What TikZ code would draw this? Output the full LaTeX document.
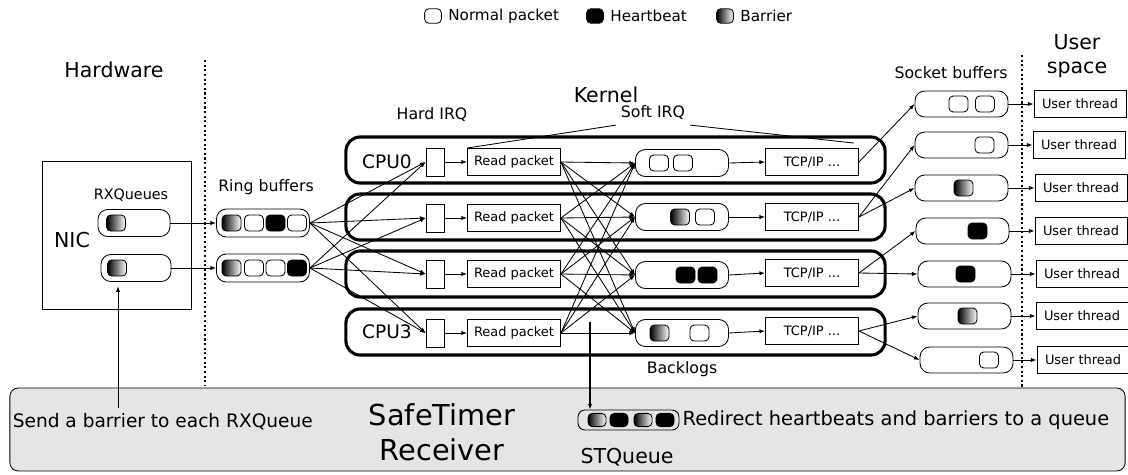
\documentclass[tikz,border=0pt]{standalone}
\usepackage{fontspec}
\setmainfont{DejaVu Sans}
\usetikzlibrary{arrows.meta, positioning, calc}

% font sizes used in the picture
\newcommand{\fnine}{\fontsize{9.2}{11}\selectfont}
\newcommand{\ften}{\fontsize{10.2}{12}\selectfont}
\newcommand{\flegend}{\fontsize{10.8}{13}\selectfont}
\newcommand{\feleven}{\fontsize{11.2}{13}\selectfont}
\newcommand{\fthirteen}{\fontsize{13.2}{15}\selectfont}
\newcommand{\ffourteen}{\fontsize{13.8}{16}\selectfont}
\newcommand{\ffifteen}{\fontsize{14.6}{17}\selectfont}
\newcommand{\ftwenty}{\fontsize{20.5}{25}\selectfont}

\begin{document}
\begin{tikzpicture}[x=0.025cm, y=-0.025cm, >={Latex[length=4pt,width=3pt]}, line width=0.6pt]
 % We define the styles for packets, queues, boxes and arrows
 \tikzset{
pkt/.style = {draw, rounded corners=3pt, minimum width=0.475cm, minimum height=0.4cm, inner sep=0pt},
normal/.style = {pkt, fill=white},
heart/.style = {pkt, fill=black},
barrier/.style = {pkt, left color=black, right color=white},
legpkt/.style = {minimum width=0.42cm, minimum height=0.36cm},
queue/.style = {draw, rounded corners=7pt, minimum width=2.325cm, minimum height=0.675cm, inner sep=0pt},
cpubox/.style = {draw, rounded corners=10pt, line width=2.2pt, minimum width=13.475cm, minimum height=1.15cm},
irq/.style = {draw, minimum width=0.45cm, minimum height=0.7cm, inner sep=0pt},
proc/.style = {draw, minimum width=2.325cm, minimum height=0.675cm, inner sep=0pt, font=\fnine},
thread/.style = {draw, minimum width=2.3cm, minimum height=0.675cm, inner sep=0pt, font=\fnine},
line/.style = {draw, ->},
sep/.style = {draw, line width=1.1pt, dash pattern=on 1.5pt off 1.8pt},
}
 \useasboundingbox (0,0) rectangle (1128,474);

 % Legend
 \node [normal, legpkt] (legnormal) at (433,16) {};
 \node [right=1pt of legnormal, font=\flegend] (legnormaltxt) {Normal packet};
 \node [heart, legpkt] (legheart) at (595,16) {};
 \node [right=1pt of legheart, font=\flegend] (leghearttxt) {Heartbeat};
 \node [barrier, legpkt] (legbarrier) at (725,16) {};
 \node [right=1pt of legbarrier, font=\flegend] (legbarriertxt) {Barrier};

 % Layer labels and separators
 \node [font=\ffifteen] (hwlabel) at (114,70) {Hardware};
 \node [font=\ffifteen] (kernlabel) at (606,95) {Kernel};
 \node [font=\ffifteen, align=center] (userlabel) at (1077,56) {User\\space};
 \draw [sep] (205,60) -- (205,385);
 \draw [sep] (1022,55) -- (1022,390);

 % SafeTimer receiver
 \node [draw, fill=gray!20, rounded corners=6pt, minimum width=27.875cm, minimum height=2.075cm] (strecv) at (567.5,429.5) {};
 \node [font=\fthirteen, anchor=west, inner sep=1pt] (sendtxt) at (11,422) {Send a barrier to each RXQueue};
 \node [font=\ftwenty, align=center] (strecvtxt) at (442,432) {SafeTimer\\Receiver};
 \node [queue, minimum width=2.525cm, minimum height=0.5cm, rounded corners=5pt] (stq) at (628.5,420) {};
 \node [barrier, minimum width=0.45cm, minimum height=0.33cm] (stq1) at (597,420) {};
 \node [heart, minimum width=0.45cm, minimum height=0.33cm] (stq2) at (619,420) {};
 \node [barrier, minimum width=0.45cm, minimum height=0.33cm] (stq3) at (643,420) {};
 \node [heart, minimum width=0.45cm, minimum height=0.33cm] (stq4) at (665,420) {};
 \node [font=\ffourteen, right=0pt of stq, inner sep=2pt] (redirtxt) {Redirect heartbeats and barriers to a queue};
 \node [font=\ffifteen] (stqlabel) at (627,457) {STQueue};

 % NIC with its RX queues
 \draw (42,161) rectangle (191,309);
 \node [font=\ffifteen] (niclabel) at (72,240) {NIC};
 \node [font=\ften] (rxqlabel) at (131,195) {RXQueues};
 \node [queue, minimum width=1.8cm] (rxq1) at (134,223) {};
 \node [barrier] (rxq1p1) at (116,223) {};
 \node [queue, minimum width=1.75cm] (rxq2) at (136,268) {};
 \node [barrier] (rxq2p1) at (117,268) {};

 % Ring buffers
 \node [font=\feleven] (ringlabel) at (266,187) {Ring buffers};
 \node [queue, minimum height=0.7cm] (ring1) at (263,223) {};
 \node [barrier] (ring1p1) at (231.5,223) {};
 \node [normal] (ring1p2) at (254,223) {};
 \node [heart] (ring1p3) at (275.5,223) {};
 \node [normal] (ring1p4) at (297,223) {};
 \node [queue, minimum height=0.7cm] (ring2) at (263,268) {};
 \node [barrier] (ring2p1) at (231.5,268) {};
 \node [normal] (ring2p2) at (254,268) {};
 \node [normal] (ring2p3) at (275.5,268) {};
 \node [heart] (ring2p4) at (297,268) {};

 % CPU rows
 \node [cpubox] (cpu0) at (615.5,160) {};
 \node [cpubox] (cpu1) at (615.5,217) {};
 \node [cpubox] (cpu2) at (615.5,274) {};
 \node [cpubox] (cpu3) at (615.5,332) {};
 \node [font=\fthirteen] (cpu0label) at (387,162) {CPU0};
 \node [font=\fthirteen] (cpu3label) at (387,332) {CPU3};
 \node [font=\feleven] (hardlabel) at (432,115) {Hard IRQ};
 \node [font=\feleven] (softlabel) at (653,113) {Soft IRQ};
 \node [font=\feleven] (backlabel) at (682,369) {Backlogs};

 % Hard IRQ, read packet, backlog and TCP/IP of each CPU
 \node [irq] (irq0) at (435,162) {};
 \node [irq] (irq1) at (435,218) {};
 \node [irq] (irq2) at (435,274) {};
 \node [irq] (irq3) at (435,333) {};
 \node [proc] (read0) at (514,162) {Read packet};
 \node [proc] (read1) at (514,218) {Read packet};
 \node [proc] (read2) at (514,274) {Read packet};
 \node [proc] (read3) at (514,333) {Read packet};
 \node [queue] (back0) at (682,163) {};
 \node [normal] (back0p1) at (659,163) {};
 \node [normal] (back0p2) at (683,163) {};
 \node [queue] (back1) at (682,217) {};
 \node [barrier] (back1p1) at (680,217) {};
 \node [normal] (back1p2) at (705,217) {};
 \node [queue] (back2) at (682,275) {};
 \node [heart] (back2p1) at (685.5,275) {};
 \node [heart] (back2p2) at (707.5,275) {};
 \node [queue] (back3) at (682,333) {};
 \node [barrier] (back3p1) at (659.5,333) {};
 \node [normal] (back3p2) at (699.5,333) {};
 \node [proc] (tcp0) at (812,162) {TCP/IP ...};
 \node [proc] (tcp1) at (812,217) {TCP/IP ...};
 \node [proc] (tcp2) at (812,273) {TCP/IP ...};
 \node [proc] (tcp3) at (812,331) {TCP/IP ...};

 % Socket buffers and user threads
 \node [font=\feleven] (socklabel) at (951,73) {Socket buffers};
 \node [queue, minimum height=0.65cm] (sock1) at (961.5,104) {};
 \node [normal] (sock1p1) at (958.5,104) {};
 \node [normal] (sock1p2) at (985,104) {};
 \node [queue, minimum height=0.65cm] (sock2) at (961.5,145) {};
 \node [normal] (sock2p1) at (984.5,145) {};
 \node [queue, minimum height=0.65cm] (sock3) at (961.5,188) {};
 \node [barrier] (sock3p1) at (963.5,188) {};
 \node [queue, minimum height=0.65cm] (sock4) at (962.5,231) {};
 \node [heart] (sock4p1) at (977.5,231) {};
 \node [queue, minimum height=0.65cm] (sock5) at (964.5,274) {};
 \node [heart] (sock5p1) at (965.5,274) {};
 \node [queue, minimum height=0.65cm] (sock6) at (964.5,316) {};
 \node [barrier] (sock6p1) at (967.5,316) {};
 \node [queue, minimum height=0.65cm] (sock7) at (966.5,360) {};
 \node [normal] (sock7p1) at (989,360) {};
 \node [thread] (thr1) at (1080,104) {User thread};
 \node [thread] (thr2) at (1079,145) {User thread};
 \node [thread] (thr3) at (1081,188) {User thread};
 \node [thread] (thr4) at (1081,231) {User thread};
 \node [thread] (thr5) at (1082,274) {User thread};
 \node [thread] (thr6) at (1082,316) {User thread};
 \node [thread] (thr7) at (1083,360) {User thread};

 % Soft IRQ brace lines
 \draw (read0.north west) -- (softlabel.south west);
 \draw (softlabel.south east) -- ([shift={(-5,-5)}]tcp0.north east);

 % Arrows
 \draw [line] (rxq1.east) -- (ring1.west);
 \draw [line] (rxq2.east) -- (ring2.west);
 \foreach \r in {ring1, ring2}
   \foreach \c in {0,...,3}
     \draw [line] (\r.east) -- (irq\c.west);
 \foreach \c in {0,...,3} {
   \draw [line] (irq\c.east) -- (read\c.west);
   \draw [line] (back\c.east) -- (tcp\c.west);
   \foreach \b in {0,...,3}
     \draw [line] (read\c.east) -- (back\b.west);
 }
 \draw [line] (tcp0.east) -- (sock1.west);
 \draw [line] (tcp1.east) -- (sock2.west);
 \draw [line] (tcp1.east) -- (sock3.west);
 \draw [line] (tcp2.east) -- (sock4.west);
 \draw [line] (tcp2.east) -- (sock5.west);
 \draw [line] (tcp3.east) -- (sock6.west);
 \draw [line] (tcp3.east) -- (sock7.west);
 \foreach \s in {1,...,7}
   \draw [line] (sock\s.east) -- (thr\s.west);

 % SafeTimer arrows
 \coordinate (sendstart) at (118,408);
 \draw [line, shorten >=3pt] (sendstart) -- (sendstart |- rxq2.south);
 \coordinate (redirstart) at (590,322);
 \draw [line, line width=0.9pt] (redirstart) -- (redirstart |- stq.north);

\end{tikzpicture}
\end{document}
